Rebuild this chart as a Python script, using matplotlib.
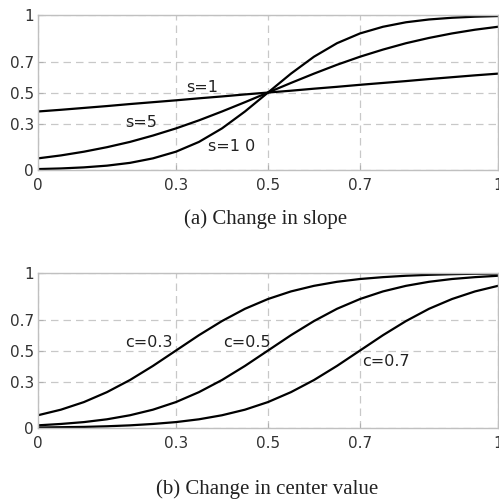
import matplotlib
matplotlib.use('Agg')
import matplotlib.pyplot as plt

# sample points
x = [0.00, 0.05, 0.10, 0.15, 0.20, 0.25, 0.30, 0.35, 0.40, 0.45, 0.50,
     0.55, 0.60, 0.65, 0.70, 0.75, 0.80, 0.85, 0.90, 0.95, 1.00]

# (a) change in slope
s1 = [0.378, 0.389, 0.401, 0.413, 0.426, 0.438, 0.450, 0.463, 0.475, 0.488, 0.500,
      0.512, 0.525, 0.537, 0.550, 0.562, 0.574, 0.587, 0.599, 0.611, 0.622]
s5 = [0.076, 0.095, 0.119, 0.148, 0.182, 0.223, 0.269, 0.321, 0.378, 0.438, 0.500,
      0.562, 0.622, 0.679, 0.731, 0.777, 0.818, 0.852, 0.881, 0.905, 0.924]
s10 = [0.007, 0.011, 0.018, 0.029, 0.047, 0.076, 0.119, 0.182, 0.269, 0.378, 0.500,
       0.622, 0.731, 0.818, 0.881, 0.924, 0.953, 0.971, 0.982, 0.989, 0.993]

# (b) change in center value
c3 = [0.083, 0.119, 0.168, 0.232, 0.310, 0.401, 0.500, 0.599, 0.690, 0.769, 0.832,
      0.881, 0.917, 0.943, 0.961, 0.973, 0.982, 0.988, 0.992, 0.995, 0.996]
c5 = [0.018, 0.027, 0.039, 0.057, 0.083, 0.119, 0.168, 0.232, 0.310, 0.401, 0.500,
      0.599, 0.690, 0.769, 0.832, 0.881, 0.917, 0.943, 0.961, 0.973, 0.982]
c7 = [0.004, 0.006, 0.008, 0.012, 0.018, 0.027, 0.039, 0.057, 0.083, 0.119, 0.168,
      0.232, 0.310, 0.401, 0.500, 0.599, 0.690, 0.769, 0.832, 0.881, 0.917]

ticks = [0, 0.3, 0.5, 0.7, 1]
tick_labels = ['0', '0.3', '0.5', '0.7', '1']

plt.rcParams['font.family'] = ['DejaVu Sans']

fig = plt.figure(figsize=(4.99, 4.99), dpi=100)
ax1 = fig.add_axes([0.076, 0.659, 0.922, 0.311])
ax2 = fig.add_axes([0.076, 0.142, 0.922, 0.311])


def style(ax):
	ax.set_xlim(0, 1)
	ax.set_ylim(0, 1)
	ax.set_xticks(ticks)
	ax.set_xticklabels(tick_labels)
	ax.set_yticks(ticks)
	ax.set_yticklabels(tick_labels)
	ax.tick_params(direction='in', length=3.5, width=0.8, color='#b0b0b0',
	               labelsize=11, labelcolor='#333333', pad=3)
	ax.tick_params(axis='x', pad=5.5)
	ax.grid(True, color='#c8c8c8', linestyle=(0, (6, 4)), linewidth=0.9)
	ax.set_axisbelow(True)
	for sp in ax.spines.values():
		sp.set_color('#c0c0c0')
		sp.set_linewidth(1.0)


for ax in (ax1, ax2):
	style(ax)

ax1.plot(x, s1, color='black', lw=1.6)
ax1.plot(x, s5, color='black', lw=1.6)
ax1.plot(x, s10, color='black', lw=1.6)
ax1.text(0.357, 0.53, 's=1', fontsize=11.5, color='#222222', ha='center', va='center')
ax1.text(0.224, 0.31, 's=5', fontsize=11.5, color='#222222', ha='center', va='center')
ax1.text(0.42, 0.155, 's=1 0', fontsize=11.5, color='#222222', ha='center', va='center')

ax2.plot(x, c3, color='black', lw=1.6)
ax2.plot(x, c5, color='black', lw=1.6)
ax2.plot(x, c7, color='black', lw=1.6)
ax2.text(0.241, 0.555, 'c=0.3', fontsize=11.5, color='#222222', ha='center', va='center')
ax2.text(0.454, 0.555, 'c=0.5', fontsize=11.5, color='#222222', ha='center', va='center')
ax2.text(0.756, 0.43, 'c=0.7', fontsize=11.5, color='#222222', ha='center', va='center')

fig.text(266 / 499, 1 - 219 / 499, '(a) Change in slope', family='Liberation Serif',
         fontsize=15, color='#222222', ha='center', va='center')
fig.text(267 / 499, 1 - 489 / 499, '(b) Change in center value', family='Liberation Serif',
         fontsize=15, color='#222222', ha='center', va='center')

fig.savefig('out.png', dpi=100)
